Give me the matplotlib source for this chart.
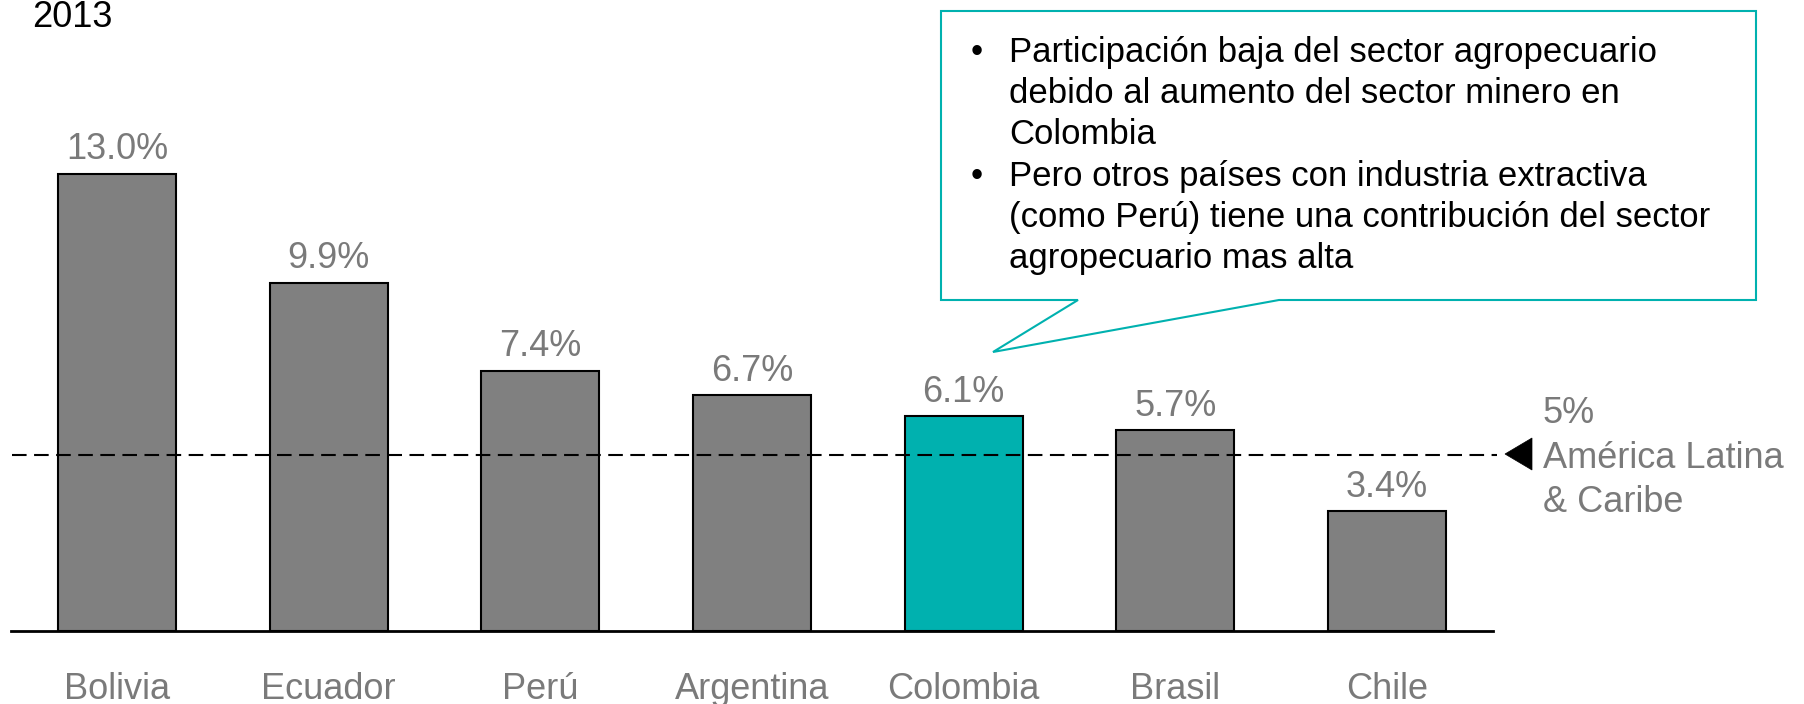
import matplotlib
matplotlib.use("Agg")
import matplotlib.pyplot as plt
from matplotlib.patches import Polygon

plt.rcParams['font.family'] = ['Liberation Sans', 'DejaVu Sans']

# ---- data ----
countries = ["Bolivia", "Ecuador", "Perú", "Argentina", "Colombia", "Brasil", "Chile"]
values = [13.0, 9.9, 7.4, 6.7, 6.1, 5.7, 3.4]
value_labels = ["13.0%", "9.9%", "7.4%", "6.7%", "6.1%", "5.7%", "3.4%"]
highlight = "Colombia"
reference_value = 5.0
reference_label = ["5%", "América Latina", "& Caribe"]
year_label = "2013"
callout_lines = [
    ("•", "Participación baja del sector agropecuario"),
    ("", "debido al aumento del sector minero en"),
    ("", "Colombia"),
    ("•", "Pero otros países con industria extractiva"),
    ("", "(como Perú) tiene una contribución del sector"),
    ("", "agropecuario mas alta"),
]

# ---- styling ----
W, H = 1804, 704
GREY_BAR = "#808080"
GREY_TXT = "#7a7a7a"
TEAL = "#00B1AF"

def fx(x):
    return x / W

def fy(y):
    return 1 - y / H

fig = plt.figure(figsize=(W / 100, H / 100), dpi=100)
ax_left, ax_right = 11, 1493
ax_base, ax_top = 630.7, 103.5
ax = fig.add_axes([fx(ax_left), fy(ax_base), fx(ax_right - ax_left), (ax_base - ax_top) / H])

colors = [TEAL if c == highlight else GREY_BAR for c in countries]
x = list(range(len(countries)))
bars = ax.bar(x, values, width=0.558, color=colors, edgecolor="black", linewidth=1.5, zorder=2)
ax.set_xlim(-0.5, 6.5)
ax.set_ylim(0, 15)

for b, lab in zip(bars, value_labels):
    ax.annotate(lab, (b.get_x() + b.get_width() / 2, b.get_height()),
                xytext=(0, 10.4), textcoords="offset points",
                ha="center", va="baseline", fontsize=26, color=GREY_TXT)

# reference line
ax.axhline(reference_value, xmin=0.0007, xmax=(1497 - ax_left) / (ax_right - ax_left),
           color="black", linewidth=1.5, linestyle=(0, (7, 3.6)), zorder=3, clip_on=False)

# axes styling
for s in ["top", "right", "left"]:
    ax.spines[s].set_visible(False)
ax.spines["bottom"].set_linewidth(2.0)
ax.set_yticks([])
ax.set_xticks(x)
ax.set_xticklabels(countries, fontsize=26, color=GREY_TXT, va="baseline")
ax.tick_params(axis="x", length=0, pad=49)

# triangle marker for reference
tri = Polygon([(fx(1505), fy(454)), (fx(1532), fy(438)), (fx(1532), fy(470))],
              closed=True, transform=fig.transFigure, facecolor="black", edgecolor="black",
              linewidth=0.5)
fig.add_artist(tri)
for lab, yb in zip(reference_label, [423, 468, 512]):
    fig.text(fx(1543), fy(yb), lab, fontsize=26, color=GREY_TXT, ha="left", va="baseline")

# year
fig.text(fx(32), fy(27), year_label, fontsize=26, color="black", ha="left", va="baseline")

# callout
poly = [(941, 11), (1756, 11), (1756, 300), (1279, 300), (993, 352), (1078, 300), (941, 300)]
callout = Polygon([(fx(px), fy(py)) for px, py in poly], closed=True, transform=fig.transFigure,
                  facecolor="white", edgecolor=TEAL, linewidth=1.5, zorder=5)
fig.add_artist(callout)
for i, (bul, line) in enumerate(callout_lines):
    yb = 62 + 41.2 * i
    if bul:
        fig.text(fx(977), fy(yb), bul, fontsize=25, color="black", ha="center", va="baseline", zorder=6)
    fig.text(fx(1009), fy(yb), line, fontsize=25, color="black", ha="left", va="baseline", zorder=6)

fig.savefig("out.png", dpi=100, facecolor="white")
